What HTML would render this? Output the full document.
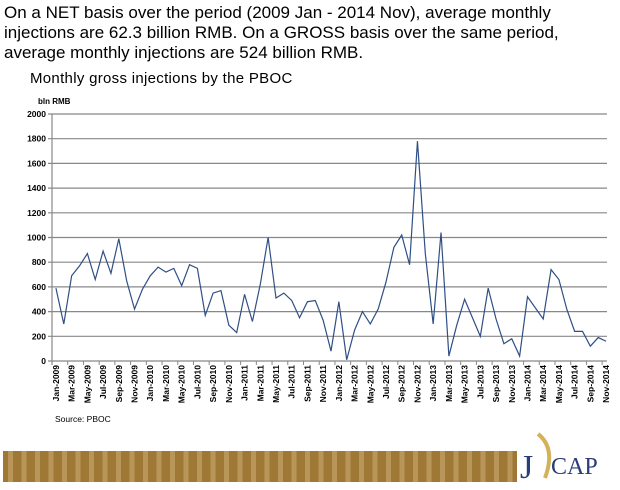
<!DOCTYPE html>
<html><head><meta charset="utf-8"><style>
body{margin:0;width:620px;height:490px;background:#fff;font-family:"Liberation Sans",sans-serif;overflow:hidden;position:relative}
.hd{position:absolute;left:4px;top:3px;font-size:17px;line-height:20px;color:#000;width:616px}
.ct{position:absolute;left:30px;top:70px;font-size:15px;letter-spacing:0.3px}
</style></head><body>
<div class="hd">On a NET basis over the period (2009 Jan - 2014 Nov), average monthly injections are 62.3 billion RMB. On a GROSS basis over the same period, average monthly injections are 524 billion RMB.</div>
<div class="ct">Monthly gross injections by the PBOC</div>
<svg id="chart" width="620" height="490" style="position:absolute;left:0;top:0"></svg>
<script>
const months=["Jan","Feb","Mar","Apr","May","Jun","Jul","Aug","Sep","Oct","Nov","Dec"];
const categories=[];for(let y=2009;y<=2014;y++)for(let m=0;m<12;m++){if(y===2014&&m>10)break;categories.push(months[m]+"-"+y);}
const values=[590,300,690,770,870,660,890,710,990,650,420,580,
690,760,720,750,610,780,750,370,550,570,290,230,
540,320,620,1000,510,550,490,350,480,490,330,80,
480,10,250,400,300,420,640,920,1020,780,1780,870,
300,1040,40,290,500,350,200,590,340,140,180,40,
520,430,340,740,660,420,240,240,120,190,160];
const yTicks=[0,200,400,600,800,1000,1200,1400,1600,1800,2000];
const svg=document.getElementById('chart');const NS="http://www.w3.org/2000/svg";
const X0=52,X1=610,Y0=361,Y1=114,YMAX=2000;
const step=(X1-X0)/categories.length;
const xs=i=>X0+step*(i+0.5);const ys=v=>Y0-(v/YMAX)*(Y0-Y1);
function mk(t,a){const e=document.createElementNS(NS,t);for(const k in a)e.setAttribute(k,a[k]);svg.appendChild(e);return e;}
yTicks.forEach(v=>{const l=mk('line',{x1:X0-4,x2:607,y1:ys(v),y2:ys(v),stroke:'#888','stroke-width':1.2});


const t=mk('text',{x:46,y:ys(v)+3,'text-anchor':'end','font-size':8.5,'font-weight':'bold'});t.textContent=v;

});
const ax=mk('line',{x1:X0,x2:X0,y1:Y1,y2:Y0+4,stroke:'#888','stroke-width':1.2});


const u=mk('text',{x:38,y:104,'font-size':8,'font-weight':'bold'});u.textContent='bln RMB';


categories.forEach((c,i)=>{if(i%2)return;const x=X0+step*i+step*0.7;
const tk=mk('line',{x1:X0+step*i,x2:X0+step*i,y1:Y0,y2:Y0+4,stroke:'#888'});


const t=mk('text',{x:0,y:0,'font-size':8.5,'font-weight':'bold','text-anchor':'end',transform:`translate(${xs(i)+3},365) rotate(-90)`});t.textContent=c;

});
const p=mk('polyline',{points:values.map((v,i)=>xs(i)+','+ys(v)).join(' '),fill:'none',stroke:'#2f4f85','stroke-width':1.2});


const s=mk('text',{x:55,y:422,'font-size':8.5});s.textContent='Source: PBOC';


const band=mk('rect',{x:3,y:451,width:514,height:31,fill:'#a07835'});


for(let x=8;x<514;x+=13.5){const r=mk('rect',{x:x,y:451,width:5,height:31,fill:'#b8965a'});

}
const arc=mk('path',{d:'M538,434 Q556,448 545,478',fill:'none',stroke:'#d4b25a','stroke-width':4});


const j=mk('text',{x:520,y:478,'font-size':34,'font-family':'Liberation Serif',fill:'#2a3d7a'});j.textContent='J';


const cap=mk('text',{x:551,y:474,'font-size':24,'font-family':'Liberation Serif',fill:'#2a3d7a'});cap.textContent='CAP';


</script>
</body></html>
